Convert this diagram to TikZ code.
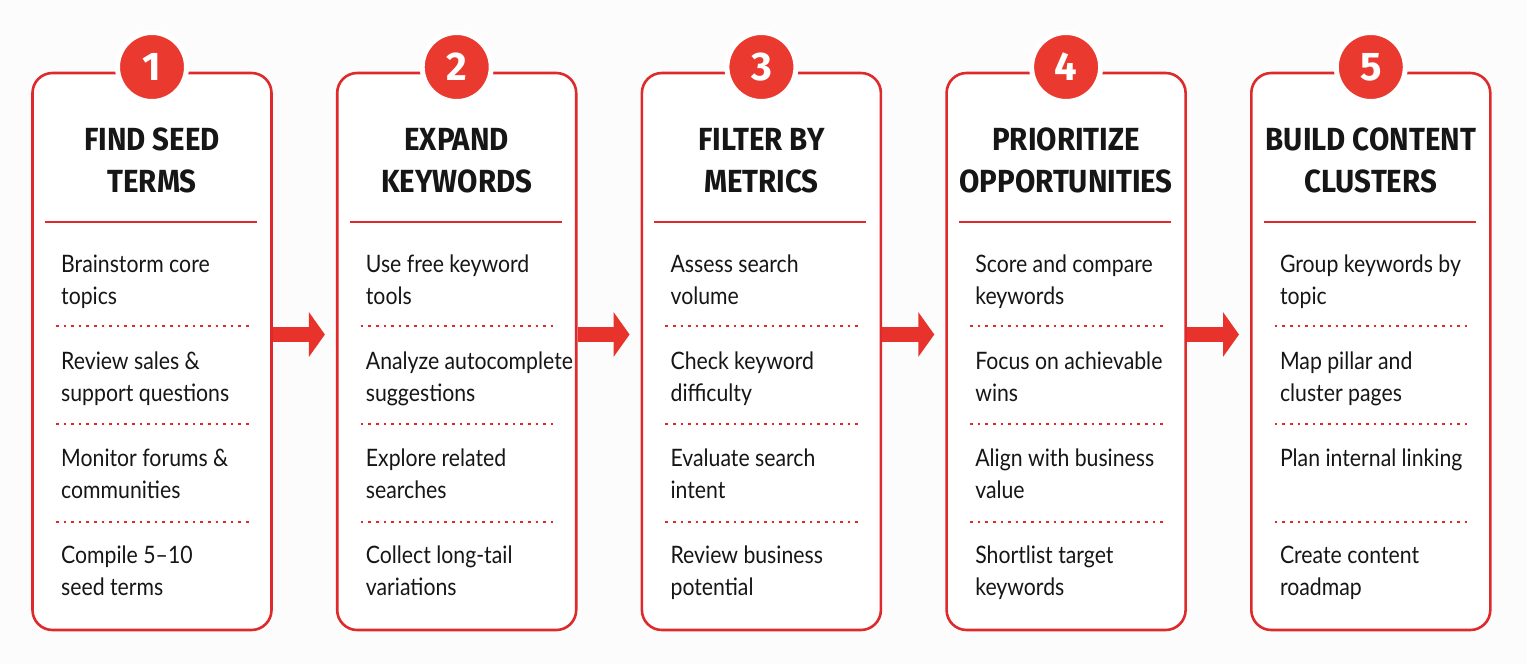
\documentclass[tikz,border=0pt]{standalone}
\usepackage{fontspec}
\setmainfont{Lato}[FakeStretch=0.885]
\newfontfamily\headfont{Fira Sans}[FakeStretch=0.92]
\newfontfamily\digitfont{Fira Sans}
\usetikzlibrary{arrows.meta}
\definecolor{cardred}{HTML}{DE2A2B}
\definecolor{discred}{HTML}{EA3A2F}
\definecolor{arrowred}{HTML}{E8322C}
\definecolor{ink}{HTML}{161616}
\definecolor{bg}{HTML}{FCFCFC}
\begin{document}
\begin{tikzpicture}[x=1pt,y=-1pt,
  card/.style={draw=cardred, line width=2.6pt, rounded corners=20pt, fill=white,
    minimum width=239pt, minimum height=557pt, inner sep=0pt},
  disc/.style={circle, fill=discred, draw=white, line width=5pt, minimum size=69pt,
    inner sep=0pt, text=white, font=\digitfont\bfseries\fontsize{40}{40}\selectfont},
  head/.style={anchor=base, inner sep=0pt, text=ink,
    font=\headfont\bfseries\fontsize{32}{42}\selectfont},
  item/.style={anchor=base west, inner sep=0pt, text=ink,
    font=\fontsize{24}{32}\selectfont},
  rule/.style={draw=cardred, line width=2.5pt},
  dots/.style={draw=cardred, line width=2.6pt, dash pattern=on 2.6pt off 5pt},
  flow/.style={draw=arrowred, line width=15pt, -{Triangle[length=16pt,width=44pt]}}
]
\fill[bg] (0,0) rectangle (1527,664);
\useasboundingbox (0,0) rectangle (1527,664);

\newcommand\stepcard[6]{%
  \pgfmathsetmacro\L{33+304.7*(#1-1)}
  \node[card] (c#1) at (\L+119,351.5) {};
  \node[disc] (n#1) at (\L+119,67) {#1};
  \node[head] (h#1) at (\L+119,150) {\parbox[t]{236pt}{\centering #2}};
  \draw[rule] (\L+12,222) -- (\L+224,222);
  \node[item] (i#1a) at (\L+28,272) {\parbox[t]{235pt}{\raggedright #3}};
  \draw[dots] (\L+23,326) -- (\L+220,326);
  \node[item] (i#1b) at (\L+28,369) {\parbox[t]{235pt}{\raggedright #4}};
  \draw[dots] (\L+23,424) -- (\L+220,424);
  \node[item] (i#1c) at (\L+28,466) {\parbox[t]{235pt}{\raggedright #5}};
  \draw[dots] (\L+23,522) -- (\L+220,522);
  \node[item] (i#1d) at (\L+28,563) {\parbox[t]{235pt}{\raggedright #6}};
}

\stepcard{1}{FIND SEED\\TERMS}{Brainstorm core\\topics}{Review sales \&\\support questions}{Monitor forums \&\\communities}{Compile 5–10\\seed terms}
\stepcard{2}{EXPAND\\KEYWORDS}{Use free keyword\\tools}{Analyze autocomplete\\suggestions}{Explore related\\searches}{Collect long-tail\\variations}
\stepcard{3}{FILTER BY\\METRICS}{Assess search\\volume}{Check keyword\\difficulty}{Evaluate search\\intent}{Review business\\potential}
\stepcard{4}{PRIORITIZE\\OPPORTUNITIES}{Score and compare\\keywords}{Focus on achievable\\wins}{Align with business\\value}{Shortlist target\\keywords}
\stepcard{5}{BUILD CONTENT\\CLUSTERS}{Group keywords by\\topic}{Map pillar and\\cluster pages}{Plan internal linking}{Create content\\roadmap}

\foreach \a/\b in {1/2,2/3,3/4,4/5}{
  \draw[flow] ([yshift=17pt]c\a.east) -- ([yshift=17pt,xshift=-11pt]c\b.west);
}
\end{tikzpicture}
\end{document}
